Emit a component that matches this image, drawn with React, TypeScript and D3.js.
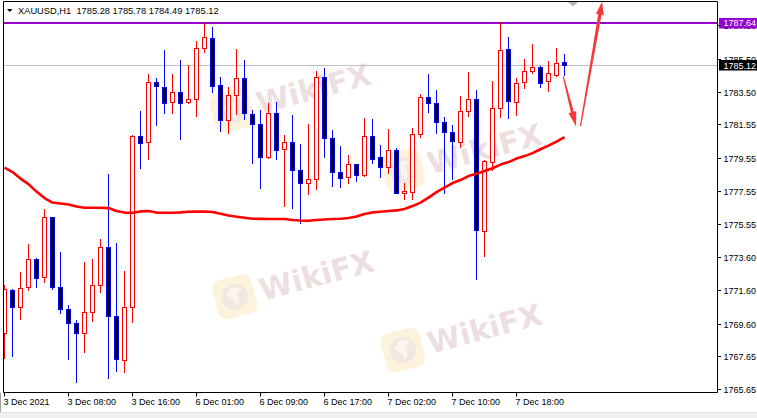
import React from 'react';
import * as d3 from 'd3';

// ---------- data ----------
const symbolTitle = 'XAUUSD,H1';
const headerValues = ['1785.28', '1785.78', '1784.49', '1785.12'];

const timeLabels = ['3 Dec 2021', '3 Dec 08:00', '3 Dec 16:00', '6 Dec 01:00', '6 Dec 09:00', '6 Dec 17:00', '7 Dec 02:00', '7 Dec 10:00', '7 Dec 18:00'];
const timeLabelIndex = [0, 8, 16, 24, 32, 40, 48, 56, 64];

const priceTicks = [1787.5, 1785.5, 1783.5, 1781.55, 1779.55, 1777.55, 1775.55, 1773.6, 1771.6, 1769.6, 1767.65, 1765.65];

const opens = [
  1769.05, 1771.61, 1770.57, 1771.77, 1773.49, 1772.37, 1775.97, 1771.81, 1770.45, 1769.65,
  1769.05, 1770.27, 1771.89, 1774.21, 1770.07, 1767.41, 1770.57, 1780.84, 1780.48, 1784.08,
  1783.81, 1782.88, 1783.51, 1782.88, 1783.06, 1786.12, 1786.72, 1783.89, 1781.81, 1783.30,
  1784.32, 1782.16, 1781.56, 1779.58, 1782.22, 1780.06, 1780.48, 1778.79, 1778.01, 1778.26,
  1784.38, 1780.72, 1778.71, 1778.38, 1779.16, 1778.50, 1780.85, 1779.58, 1779.01, 1780.01,
  1777.45, 1777.51, 1780.97, 1783.18, 1782.82, 1781.68, 1781.07, 1780.51, 1782.34, 1783.06,
  1775.13, 1779.28, 1782.52, 1786.06, 1782.88, 1784.08, 1784.77, 1784.98, 1784.14, 1784.53,
  1785.28,
];
const highs = [
  1771.91, 1771.65, 1772.69, 1774.37, 1773.55, 1776.45, 1776.00, 1773.89, 1770.71, 1769.81,
  1773.29, 1773.47, 1774.67, 1778.57, 1774.45, 1772.75, 1780.90, 1782.35, 1784.58, 1784.35,
  1786.02, 1784.58, 1785.42, 1785.12, 1786.56, 1787.62, 1787.41, 1784.41, 1783.81, 1786.08,
  1785.42, 1782.41, 1782.41, 1782.82, 1782.91, 1780.91, 1782.11, 1780.37, 1781.57, 1784.76,
  1784.92, 1781.21, 1780.25, 1779.71, 1779.20, 1781.92, 1781.86, 1780.31, 1781.27, 1780.12,
  1778.01, 1781.32, 1783.38, 1784.58, 1783.62, 1781.98, 1781.51, 1783.26, 1784.71, 1783.62,
  1779.40, 1784.17, 1787.70, 1786.78, 1784.32, 1785.46, 1786.38, 1785.06, 1785.36, 1786.12,
  1785.78,
];
const lows = [
  1767.51, 1767.67, 1769.85, 1771.61, 1771.81, 1772.11, 1771.69, 1770.25, 1767.47, 1766.11,
  1767.91, 1769.77, 1771.51, 1766.35, 1766.77, 1766.71, 1769.71, 1778.95, 1779.46, 1781.50,
  1782.25, 1782.22, 1780.66, 1782.85, 1782.07, 1785.91, 1783.51, 1781.15, 1781.05, 1782.16,
  1781.86, 1779.22, 1777.71, 1779.55, 1779.46, 1776.67, 1776.55, 1775.65, 1777.35, 1777.65,
  1779.61, 1777.87, 1777.77, 1778.01, 1778.15, 1778.45, 1779.22, 1778.41, 1778.62, 1777.41,
  1777.05, 1777.05, 1780.81, 1782.28, 1781.02, 1777.41, 1778.27, 1780.21, 1782.05, 1772.25,
  1773.67, 1778.81, 1782.01, 1781.92, 1782.11, 1783.72, 1784.62, 1783.81, 1783.57, 1784.47,
  1784.49,
];
const closes = [
  1771.65, 1770.57, 1771.71, 1773.49, 1772.31, 1775.97, 1771.81, 1770.45, 1769.65, 1769.01,
  1770.27, 1771.89, 1774.21, 1770.07, 1767.45, 1770.57, 1780.84, 1780.42, 1784.08, 1783.86,
  1782.82, 1783.48, 1782.82, 1783.06, 1786.12, 1786.78, 1783.87, 1781.81, 1783.30, 1784.32,
  1782.22, 1781.56, 1779.58, 1782.22, 1780.01, 1780.48, 1778.81, 1778.01, 1778.26, 1784.38,
  1780.72, 1778.71, 1778.35, 1779.16, 1778.50, 1780.85, 1779.46, 1779.01, 1780.01, 1777.45,
  1777.55, 1780.97, 1783.18, 1782.82, 1781.68, 1781.11, 1780.54, 1782.34, 1783.06, 1775.19,
  1779.35, 1782.52, 1786.00, 1782.94, 1784.02, 1784.77, 1784.98, 1784.02, 1784.62, 1785.22,
  1785.12,
];
const maValues = [
  1778.96, 1778.69, 1778.30, 1777.97, 1777.52, 1777.13, 1776.86, 1776.80, 1776.74, 1776.62,
  1776.55, 1776.55, 1776.55, 1776.53, 1776.35, 1776.26, 1776.25, 1776.33, 1776.35, 1776.26,
  1776.25, 1776.25, 1776.27, 1776.31, 1776.32, 1776.32, 1776.29, 1776.19, 1776.08, 1776.01,
  1775.95, 1775.89, 1775.88, 1775.87, 1775.87, 1775.87, 1775.81, 1775.78, 1775.77, 1775.81,
  1775.84, 1775.87, 1775.89, 1775.93, 1776.02, 1776.17, 1776.27, 1776.31, 1776.35, 1776.39,
  1776.47, 1776.65, 1776.86, 1777.16, 1777.49, 1777.76, 1778.03, 1778.21, 1778.45, 1778.59,
  1778.75, 1778.92, 1779.14, 1779.29, 1779.50, 1779.65, 1779.83, 1780.06, 1780.28, 1780.52,
  1780.79,
];

const highLevel = 1787.64;
const bidLevel = 1785.12;

// annotation arrows in (bar index, price)
const arrowDown = { from: [69.85, 1784.42], to: [71.45, 1781.42] };
const arrowUp = { from: [72.0, 1781.45], to: [74.7, 1788.92] };

// watermark anchors in (bar index, price)
const watermarkAnchors = [
  [28.4, 1782.4],
  [49.8, 1778.8],
  [28.8, 1771.2],
  [49.8, 1768.0],
];

// ---------- layout ----------
const W = 757;
const H = 418;
const plotLeft = 3.5;
const plotRight = 717.5;
const plotTop = 1.5;
const plotBottom = 392.5;

const FONT = "'Liberation Sans', Arial, sans-serif";

function arrowPolygon(x1: number, y1: number, x2: number, y2: number, w1: number, w2: number, headLen: number, headW: number) {
  const dx = x2 - x1, dy = y2 - y1;
  const len = Math.hypot(dx, dy);
  const ux = dx / len, uy = dy / len;
  const nx = -uy, ny = ux;
  const bx = x2 - ux * headLen, by = y2 - uy * headLen;
  const pts = [
    [x1 + nx * w1 / 2, y1 + ny * w1 / 2],
    [bx + nx * w2 / 2, by + ny * w2 / 2],
    [bx + nx * headW / 2, by + ny * headW / 2],
    [x2, y2],
    [bx - nx * headW / 2, by - ny * headW / 2],
    [bx - nx * w2 / 2, by - ny * w2 / 2],
    [x1 - nx * w1 / 2, y1 - ny * w1 / 2],
  ];
  return 'M' + pts.map(p => p[0].toFixed(2) + ',' + p[1].toFixed(2)).join('L') + 'Z';
}

export default function App() {
  const x = d3.scaleLinear().domain([0, 70]).range([4.5, 564.5]);
  const y = d3.scaleLinear().domain([1765.49, 1788.96]).range([392, 1]);
  const py = (p: number) => Math.round(y(p));

  const maLine = d3.line<number>().x((_, i) => x(i)).y(d => y(d)).curve(d3.curveLinear);

  const candles = opens.map((o, i) => {
    const c = closes[i];
    const h = highs[i];
    const l = lows[i];
    const bull = c >= o;
    const cx = x(i);
    const top = py(Math.max(o, c));
    const bot = py(Math.min(o, c));
    const col = bull ? '#ff0000' : '#0000ff';
    return (
      <g key={i}>
        <line x1={cx} x2={cx} y1={py(h)} y2={py(l) + 1} stroke={col} strokeWidth={1} />
        {bot - top >= 1 ? (
          <rect x={cx - 2} y={top + 0.5} width={4} height={bot - top} fill={bull ? '#ffffff' : '#000000'} stroke={col} strokeWidth={1} />
        ) : (
          <line x1={cx - 2.5} x2={cx + 2.5} y1={top + 0.5} y2={top + 0.5} stroke={col} strokeWidth={1} />
        )}
      </g>
    );
  });

  const a1 = arrowPolygon(x(arrowDown.from[0]), y(arrowDown.from[1]), x(arrowDown.to[0]), y(arrowDown.to[1]), 1.2, 3, 15, 8);
  const a2 = arrowPolygon(x(arrowUp.from[0]), y(arrowUp.from[1]), x(arrowUp.to[0]), y(arrowUp.to[1]), 1.2, 3.4, 13, 8);

  const highY = Math.round(y(highLevel));
  const bidY = Math.round(y(bidLevel));

  return (
    <svg width={W} height={H} style={{ position: 'absolute', left: 0, top: 0, display: 'block', background: '#ffffff' }}>
      <defs>
        <clipPath id="plotClip">
          <rect x={plotLeft + 0.5} y={plotTop + 0.5} width={plotRight - plotLeft - 1} height={plotBottom - plotTop - 1} />
        </clipPath>
      </defs>
      <rect x={0} y={0} width={W} height={H} fill="#ffffff" />

      {/* watermarks */}
      <g clipPath="url(#plotClip)">
        {watermarkAnchors.map((a, k) => (
          <g key={k} transform={`translate(${x(a[0]).toFixed(1)},${y(a[1]).toFixed(1)}) rotate(-15)`}>
            <rect x={-20} y={-20} width={40} height={40} rx={9} fill="#fdf2dc" />
            <circle cx={0} cy={0} r={13} fill="#f1e8e1" />
            <path d="M-8,-4 Q0,-14 9,-6 L3,-3 Q6,4 0,10 Q-2,2 -8,-4 Z" fill="#fbf5ee" />
            <text x={26} y={11} fontFamily="'DejaVu Sans', sans-serif" fontWeight="bold" fontSize={30} fill="#eddfdf">WikiFX</text>
          </g>
        ))}
      </g>

      {/* horizontal levels */}
      <line x1={plotLeft} x2={plotRight} y1={bidY + 0.5} y2={bidY + 0.5} stroke="#c0c0c0" strokeWidth={1} />
      <line x1={plotLeft} x2={plotRight} y1={highY} y2={highY} stroke="#9400d3" strokeWidth={2} />

      {/* candles */}
      <g clipPath="url(#plotClip)">{candles}</g>

      {/* moving average */}
      <g clipPath="url(#plotClip)">
        <path d={maLine(maValues) || ''} fill="none" stroke="#ff0000" strokeWidth={2.6} strokeLinejoin="round" />
      </g>

      {/* arrows */}
      <g clipPath="url(#plotClip)">
        <path d={a1} fill="#f53838" />
        <path d={a2} fill="#f53838" />
        <path d="M568,2 L578,2 L573,6.5 Z" fill="#b4b4b4" />
      </g>

      {/* frame */}
      <path d={`M${plotLeft},${plotBottom} V${plotTop} H${plotRight} V${plotBottom} Z`} fill="none" stroke="#000000" strokeWidth={1} />

      {/* header */}
      <path d="M7,9 L12.5,9 L9.75,12 Z" fill="#000000" />
      <text x={18} y={13.5} fontFamily={FONT} fontSize={9.3} fill="#000000" style={{ whiteSpace: 'pre' }}>
        {symbolTitle + '  ' + headerValues.join(' ')}
      </text>

      {/* price axis */}
      {priceTicks.map((p, k) => {
        const ty = Math.round(y(p)) + 0.5;
        return (
          <g key={k}>
            <line x1={plotRight} x2={plotRight + 3.5} y1={ty} y2={ty} stroke="#000000" strokeWidth={1} />
            <text x={723.5} y={ty + 3.3} fontFamily={FONT} fontSize={9} fill="#000000">{d3.format('.2f')(p)}</text>
          </g>
        );
      })}
      <rect x={719} y={highY - 5} width={38} height={10.5} fill="#9400d3" />
      <text x={723.5} y={highY + 3.4} fontFamily={FONT} fontSize={9} fill="#ffffff">{d3.format('.2f')(highLevel)}</text>
      <rect x={719} y={bidY - 5} width={38} height={10.5} fill="#000000" />
      <text x={723.5} y={bidY + 3.8} fontFamily={FONT} fontSize={9} fill="#ffffff">{d3.format('.2f')(bidLevel)}</text>

      {/* time axis */}
      {timeLabelIndex.map((idx, k) => {
        const tx = x(idx);
        return (
          <g key={k}>
            <line x1={tx} x2={tx} y1={plotBottom} y2={plotBottom + 4} stroke="#000000" strokeWidth={1} />
            <text x={tx - 1} y={405.2} fontFamily={FONT} fontSize={9} fill="#000000">{timeLabels[k]}</text>
          </g>
        );
      })}

      {/* bottom window strip */}
      <rect x={0} y={412} width={W} height={6} fill="#f0f0f0" />
      <line x1={0} x2={W} y1={412.5} y2={412.5} stroke="#e2e2e2" strokeWidth={1} />
      <line x1={0.5} x2={0.5} y1={393} y2={412} stroke="#a0a0a0" strokeWidth={1} />
    </svg>
  );
}
